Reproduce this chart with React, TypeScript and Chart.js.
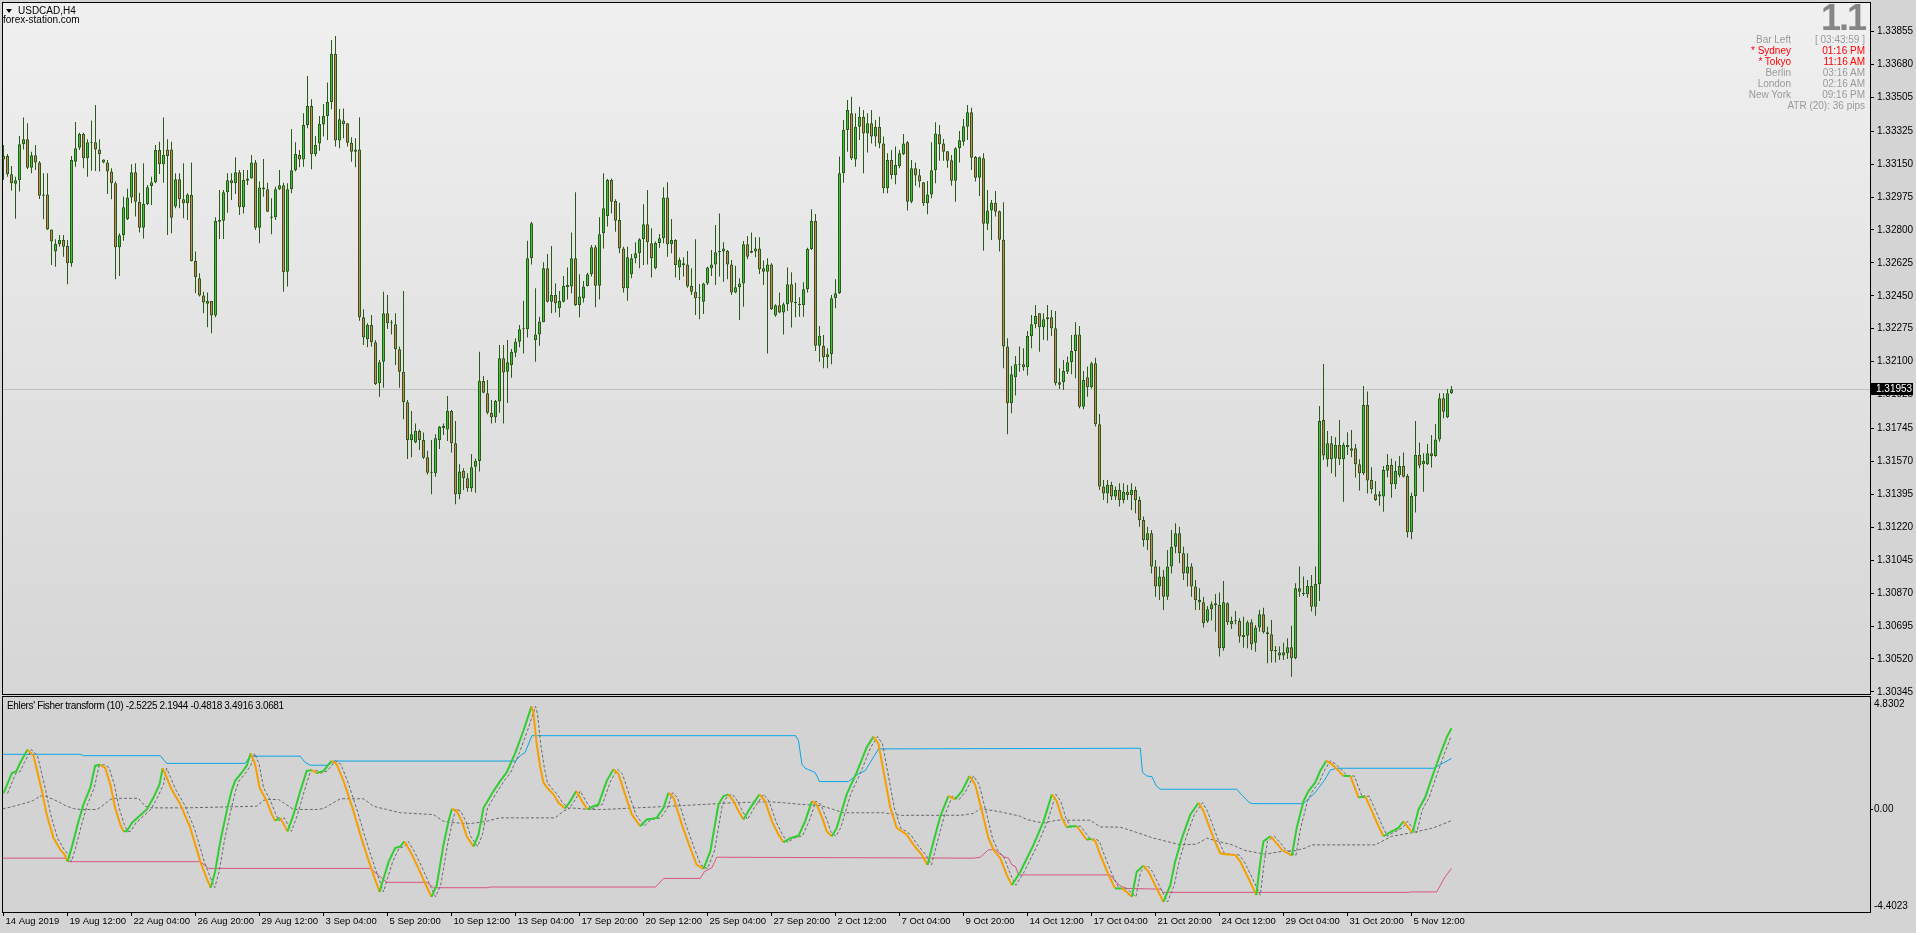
import React, { useEffect, useRef } from 'react';
import { Chart, registerables } from 'chart.js';
Chart.register(...registerables);

const FONT = '"Liberation Sans", Arial, Helvetica, sans-serif';

// [open, high, low, close] per H4 bar, bar 0 = 14 Aug 2019 20:00
const OHLC: number[][] = [
[1.33175,1.33252,1.33066,1.33193],[1.33193,1.33204,1.33083,1.33096],[1.33096,1.33140,1.33009,1.33048],[1.33046,1.33083,1.32860,1.33064],[1.33064,1.33299,1.33004,1.33255],
[1.33255,1.33397,1.33228,1.33282],[1.33282,1.33367,1.33124,1.33131],[1.33131,1.33216,1.33101,1.33197],[1.33197,1.33252,1.33119,1.33158],[1.33159,1.33166,1.32965,1.32982],
[1.32982,1.33101,1.32857,1.32989],[1.32989,1.33101,1.32800,1.32802],[1.32802,1.32802,1.32614,1.32738],[1.32685,1.32750,1.32605,1.32725],[1.32724,1.32773,1.32711,1.32747],
[1.32747,1.32773,1.32658,1.32711],[1.32715,1.32747,1.32511,1.32623],[1.32623,1.33193,1.32605,1.33172],[1.33163,1.33374,1.33136,1.33234],[1.33237,1.33317,1.33225,1.33310],
[1.33310,1.33317,1.33128,1.33181],[1.33181,1.33282,1.33083,1.33266],[1.33266,1.33381,1.33115,1.33264],[1.33266,1.33464,1.33113,1.33228],[1.33228,1.33282,1.33110,1.33202],
[1.33175,1.33175,1.33154,1.33158],[1.33158,1.33172,1.32991,1.33110],[1.33110,1.33128,1.32963,1.33048],[1.33048,1.33057,1.32538,1.32708],[1.32708,1.32782,1.32555,1.32772],
[1.32772,1.32977,1.32743,1.32920],[1.32857,1.33019,1.32853,1.32973],[1.32973,1.33149,1.32942,1.33106],[1.33106,1.33154,1.32871,1.32950],[1.32950,1.32998,1.32786,1.32812],
[1.32812,1.33154,1.32754,1.32938],[1.32938,1.33039,1.32933,1.33027],[1.33034,1.33083,1.32933,1.33053],[1.33053,1.33252,1.33048,1.33225],[1.33225,1.33269,1.33097,1.33149],
[1.33149,1.33397,1.33051,1.33198],[1.33228,1.33282,1.32773,1.33193],[1.33228,1.33269,1.32782,1.32865],[1.32924,1.33101,1.32915,1.33069],[1.33069,1.33101,1.32915,1.32963],
[1.32963,1.33154,1.32862,1.32942],[1.32942,1.32995,1.32853,1.32989],[1.32986,1.33158,1.32632,1.32635],[1.32635,1.32685,1.32463,1.32548],[1.32543,1.32570,1.32446,1.32451],
[1.32451,1.32472,1.32357,1.32415],[1.32408,1.32467,1.32283,1.32423],[1.32423,1.32423,1.32251,1.32345],[1.32345,1.32867,1.32336,1.32848],[1.32844,1.33012,1.32752,1.32853],
[1.32849,1.33012,1.32752,1.33000],[1.33000,1.33101,1.32892,1.33064],[1.33064,1.33101,1.32959,1.33048],[1.33048,1.33186,1.32991,1.33106],[1.33106,1.33119,1.32880,1.32920],
[1.32920,1.33119,1.32888,1.33066],[1.33062,1.33119,1.33039,1.33074],[1.33074,1.33198,1.33073,1.33159],[1.33159,1.33172,1.32800,1.32812],[1.32812,1.33057,1.32729,1.33025],
[1.33025,1.33177,1.32977,1.33016],[1.33016,1.33051,1.32895,1.32897],[1.32871,1.32968,1.32777,1.32865],[1.32867,1.33030,1.32853,1.33016],[1.33016,1.33119,1.33012,1.33037],
[1.33037,1.33051,1.32472,1.32575],[1.32578,1.33048,1.32499,1.33016],[1.33016,1.33337,1.32995,1.33117],[1.33117,1.33266,1.33110,1.33204],[1.33198,1.33225,1.33133,1.33175],
[1.33175,1.33420,1.33136,1.33358],[1.33358,1.33618,1.33340,1.33459],[1.33459,1.33494,1.33122,1.33202],[1.33202,1.33299,1.33190,1.33252],[1.33260,1.33406,1.33221,1.33363],
[1.33361,1.33469,1.33296,1.33406],[1.33406,1.33583,1.33278,1.33480],[1.33480,1.33809,1.33441,1.33735],[1.33735,1.33831,1.33243,1.33275],[1.33275,1.33443,1.33234,1.33388],
[1.33381,1.33446,1.33287,1.33363],[1.33367,1.33367,1.33243,1.33264],[1.33264,1.33292,1.33163,1.33216],[1.33216,1.33287,1.33133,1.33228],[1.33228,1.33399,1.32318,1.32336],
[1.32336,1.32378,1.32189,1.32229],[1.32219,1.32304,1.32176,1.32295],[1.32295,1.32348,1.32180,1.32203],[1.32203,1.32215,1.31976,1.31981],[1.31985,1.32109,1.31914,1.32097],
[1.32100,1.32472,1.31962,1.32357],[1.32357,1.32454,1.32274,1.32304],[1.32307,1.32322,1.32245,1.32304],[1.32299,1.32357,1.32082,1.32166],[1.32166,1.32180,1.31962,1.32047],
[1.32047,1.32476,1.31794,1.31884],[1.31884,1.31896,1.31583,1.31684],[1.31684,1.31838,1.31592,1.31714],[1.31671,1.31772,1.31666,1.31733],[1.31733,1.31739,1.31631,1.31684],
[1.31684,1.31723,1.31583,1.31590],[1.31592,1.31627,1.31501,1.31510],[1.31510,1.31684,1.31395,1.31512],[1.31507,1.31714,1.31489,1.31693],[1.31684,1.31758,1.31636,1.31755],
[1.31758,1.31772,1.31710,1.31746],[1.31739,1.31918,1.31678,1.31838],[1.31838,1.31843,1.31617,1.31666],[1.31666,1.31785,1.31342,1.31395],[1.31395,1.31555,1.31369,1.31516],
[1.31521,1.31533,1.31418,1.31480],[1.31480,1.31507,1.31409,1.31427],[1.31427,1.31610,1.31409,1.31539],[1.31542,1.31586,1.31404,1.31574],[1.31572,1.32153,1.31516,1.31999],
[1.31997,1.32024,1.31932,1.31935],[1.31932,1.32003,1.31820,1.31829],[1.31829,1.31896,1.31772,1.31804],[1.31804,1.31896,1.31776,1.31891],[1.31888,1.32189,1.31829,1.32118],
[1.32118,1.32189,1.31772,1.32043],[1.32047,1.32215,1.31880,1.32097],[1.32082,1.32167,1.32015,1.32153],[1.32148,1.32224,1.32123,1.32206],[1.32206,1.32295,1.32176,1.32272],
[1.32272,1.32424,1.32144,1.32275],[1.32272,1.32743,1.32229,1.32649],[1.32649,1.32844,1.32617,1.32835],[1.32215,1.32490,1.32100,1.32245],[1.32245,1.32339,1.32185,1.32313],
[1.32309,1.32628,1.32309,1.32596],[1.32596,1.32672,1.32414,1.32419],[1.32419,1.32715,1.32357,1.32454],[1.32454,1.32516,1.32361,1.32410],[1.32384,1.32476,1.32336,1.32423],
[1.32419,1.32555,1.32414,1.32504],[1.32495,1.32601,1.32431,1.32508],[1.32499,1.32786,1.32463,1.32649],[1.32649,1.33000,1.32396,1.32401],[1.32401,1.32564,1.32336,1.32446],
[1.32437,1.32529,1.32414,1.32499],[1.32502,1.32573,1.32499,1.32564],[1.32564,1.32720,1.32552,1.32708],[1.32708,1.32720,1.32389,1.32504],[1.32504,1.32867,1.32431,1.32777],
[1.32782,1.33101,1.32702,1.32915],[1.32874,1.33071,1.32818,1.33066],[1.33066,1.33074,1.32888,1.32950],[1.32954,1.32963,1.32791,1.32849],[1.32853,1.32945,1.32676,1.32702],
[1.32702,1.32711,1.32467,1.32490],[1.32490,1.32711,1.32424,1.32655],[1.32564,1.32672,1.32543,1.32649],[1.32649,1.32734,1.32623,1.32676],[1.32676,1.32756,1.32596,1.32750],
[1.32750,1.32936,1.32614,1.32830],[1.32830,1.33012,1.32617,1.32734],[1.32729,1.32809,1.32547,1.32649],[1.32596,1.32738,1.32591,1.32731],[1.32731,1.32779,1.32706,1.32756],
[1.32756,1.33027,1.32729,1.32973],[1.32973,1.33053,1.32658,1.32724],[1.32724,1.32858,1.32676,1.32747],[1.32747,1.32750,1.32547,1.32614],[1.32601,1.32653,1.32534,1.32640],
[1.32614,1.32655,1.32552,1.32623],[1.32617,1.32688,1.32493,1.32499],[1.32502,1.32596,1.32454,1.32472],[1.32472,1.32750,1.32348,1.32437],[1.32437,1.32513,1.32325,1.32440],
[1.32419,1.32520,1.32353,1.32516],[1.32516,1.32605,1.32508,1.32600],[1.32596,1.32694,1.32555,1.32617],[1.32617,1.32826,1.32508,1.32681],[1.32681,1.32888,1.32552,1.32688],
[1.32685,1.32734,1.32525,1.32702],[1.32688,1.32694,1.32538,1.32617],[1.32617,1.32640,1.32454,1.32467],[1.32467,1.32610,1.32463,1.32495],[1.32495,1.32543,1.32322,1.32516],
[1.32516,1.32741,1.32392,1.32724],[1.32724,1.32768,1.32644,1.32658],[1.32679,1.32787,1.32676,1.32688],[1.32685,1.32761,1.32655,1.32702],[1.32702,1.32761,1.32566,1.32591],
[1.32596,1.32637,1.32508,1.32578],[1.32578,1.32649,1.32144,1.32617],[1.32617,1.32623,1.32375,1.32378],[1.32345,1.32405,1.32339,1.32400],[1.32400,1.32467,1.32357,1.32361],
[1.32361,1.32414,1.32245,1.32405],[1.32405,1.32601,1.32369,1.32511],[1.32511,1.32575,1.32281,1.32414],[1.32410,1.32520,1.32336,1.32417],[1.32407,1.32442,1.32339,1.32401],
[1.32400,1.32522,1.32339,1.32485],[1.32485,1.32706,1.32467,1.32699],[1.32699,1.32910,1.32694,1.32848],[1.32848,1.32885,1.32157,1.32185],[1.32185,1.32290,1.32100,1.32238],
[1.32185,1.32242,1.32065,1.32123],[1.32123,1.32171,1.32065,1.32139],[1.32139,1.32454,1.32086,1.32437],[1.32437,1.32538,1.32384,1.32463],[1.32463,1.33190,1.32460,1.33101],
[1.33101,1.33384,1.33051,1.33331],[1.33331,1.33491,1.33216,1.33438],[1.33420,1.33508,1.33172,1.33181],[1.33175,1.33420,1.33136,1.33349],[1.33349,1.33455,1.33278,1.33402],
[1.33402,1.33438,1.33101,1.33313],[1.33313,1.33420,1.33211,1.33367],[1.33367,1.33438,1.33260,1.33296],[1.33296,1.33384,1.33243,1.33349],[1.33349,1.33402,1.33234,1.33260],
[1.33260,1.33296,1.32995,1.33021],[1.33021,1.33207,1.32995,1.33172],[1.33172,1.33225,1.33069,1.33092],[1.33092,1.33243,1.33043,1.33145],[1.33140,1.33225,1.33128,1.33207],
[1.33202,1.33310,1.33198,1.33260],[1.33266,1.33273,1.32903,1.32950],[1.32950,1.33172,1.32942,1.33128],[1.33128,1.33158,1.33035,1.33089],[1.33090,1.33124,1.33025,1.33057],
[1.33053,1.33053,1.32927,1.32942],[1.32942,1.33060,1.32883,1.32989],[1.32989,1.33266,1.32968,1.33117],[1.33117,1.33372,1.33048,1.33313],[1.33308,1.33358,1.33168,1.33255],
[1.33260,1.33283,1.33168,1.33216],[1.33218,1.33220,1.33131,1.33168],[1.33170,1.33198,1.33035,1.33062],[1.33062,1.33239,1.32950,1.33234],[1.33234,1.33326,1.33158,1.33276],
[1.33269,1.33390,1.33248,1.33351],[1.33349,1.33464,1.33278,1.33425],[1.33425,1.33450,1.33119,1.33184],[1.33188,1.33193,1.33057,1.33078],[1.33078,1.33190,1.32980,1.33186],
[1.33181,1.33207,1.32690,1.32833],[1.32833,1.33012,1.32800,1.32903],[1.32903,1.32959,1.32747,1.32945],[1.32945,1.33007,1.32871,1.32897],[1.32899,1.32903,1.32685,1.32748],
[1.32748,1.32947,1.32065,1.32180],[1.32180,1.32224,1.31714,1.31879],[1.31879,1.32077,1.31826,1.32033],[1.32017,1.32130,1.31920,1.32086],[1.32086,1.32180,1.32047,1.32084],
[1.32086,1.32171,1.32052,1.32070],[1.32070,1.32263,1.32026,1.32237],[1.32237,1.32348,1.32171,1.32299],[1.32299,1.32401,1.32277,1.32343],[1.32357,1.32357,1.32153,1.32283],
[1.32283,1.32357,1.32215,1.32325],[1.32325,1.32401,1.32212,1.32336],[1.32336,1.32375,1.32237,1.32277],[1.32277,1.32369,1.31973,1.31985],[1.31990,1.32065,1.31955,1.31978],
[1.31990,1.32109,1.31950,1.32051],[1.32047,1.32127,1.32035,1.32097],[1.32097,1.32242,1.32033,1.32157],[1.32157,1.32309,1.32012,1.32245],[1.32245,1.32290,1.31852,1.31861],
[1.31861,1.32051,1.31847,1.32003],[1.32017,1.32074,1.31914,1.31964],[1.31964,1.32100,1.31958,1.32091],[1.32091,1.32121,1.31755,1.31767],[1.31767,1.31822,1.31418,1.31436],
[1.31436,1.31471,1.31365,1.31400],[1.31400,1.31471,1.31347,1.31445],[1.31445,1.31462,1.31365,1.31383],[1.31383,1.31436,1.31365,1.31418],[1.31418,1.31454,1.31330,1.31365],
[1.31365,1.31454,1.31347,1.31409],[1.31409,1.31445,1.31365,1.31392],[1.31392,1.31454,1.31312,1.31418],[1.31418,1.31436,1.31294,1.31365],[1.31365,1.31383,1.31223,1.31259],
[1.31259,1.31277,1.31117,1.31153],[1.31153,1.31223,1.31099,1.31188],[1.31188,1.31206,1.30975,1.31011],[1.31011,1.31046,1.30851,1.30905],[1.30905,1.31011,1.30834,1.30958],
[1.30958,1.30993,1.30781,1.30851],[1.30851,1.31099,1.30834,1.31011],[1.31011,1.31206,1.30975,1.31117],[1.31117,1.31241,1.31082,1.31188],[1.31188,1.31223,1.31029,1.31082],
[1.31082,1.31117,1.30940,1.30975],[1.30975,1.31082,1.30905,1.31011],[1.31011,1.31029,1.30851,1.30905],[1.30905,1.30940,1.30781,1.30834],[1.30834,1.30896,1.30781,1.30821],
[1.30821,1.30851,1.30687,1.30710],[1.30719,1.30802,1.30713,1.30784],[1.30784,1.30825,1.30724,1.30811],[1.30816,1.30866,1.30665,1.30805],[1.30807,1.30873,1.30533,1.30577],
[1.30577,1.30935,1.30564,1.30821],[1.30816,1.30821,1.30701,1.30715],[1.30704,1.30745,1.30680,1.30722],[1.30722,1.30775,1.30704,1.30720],[1.30722,1.30736,1.30607,1.30639],
[1.30635,1.30745,1.30580,1.30648],[1.30644,1.30724,1.30577,1.30715],[1.30715,1.30731,1.30568,1.30598],[1.30607,1.30701,1.30559,1.30688],[1.30688,1.30781,1.30665,1.30758],
[1.30758,1.30793,1.30656,1.30662],[1.30651,1.30692,1.30497,1.30662],[1.30651,1.30727,1.30501,1.30563],[1.30563,1.30589,1.30501,1.30568],[1.30554,1.30586,1.30515,1.30538],
[1.30538,1.30607,1.30515,1.30556],[1.30550,1.30630,1.30520,1.30582],[1.30582,1.30697,1.30426,1.30524],[1.30524,1.30922,1.30518,1.30896],[1.30896,1.31011,1.30851,1.30878],
[1.30869,1.30958,1.30855,1.30866],[1.30864,1.30940,1.30846,1.30908],[1.30908,1.30967,1.30772,1.30798],[1.30798,1.31011,1.30750,1.30919],[1.30919,1.31865,1.30828,1.31785],
[1.31790,1.32088,1.31578,1.31601],[1.31581,1.31732,1.31542,1.31666],[1.31666,1.31705,1.31507,1.31581],[1.31586,1.31698,1.31489,1.31657],[1.31657,1.31790,1.31551,1.31581],
[1.31581,1.31671,1.31356,1.31657],[1.31657,1.31725,1.31604,1.31645],[1.31640,1.31737,1.31592,1.31627],[1.31640,1.31663,1.31484,1.31555],[1.31555,1.31581,1.31415,1.31507],
[1.31507,1.31971,1.31498,1.31870],[1.31870,1.31941,1.31400,1.31468],[1.31471,1.31539,1.31400,1.31422],[1.31395,1.31466,1.31360,1.31365],[1.31383,1.31413,1.31335,1.31395],
[1.31383,1.31546,1.31303,1.31525],[1.31521,1.31610,1.31486,1.31551],[1.31551,1.31586,1.31377,1.31448],[1.31448,1.31572,1.31424,1.31519],[1.31498,1.31599,1.31486,1.31546],
[1.31546,1.31618,1.31484,1.31489],[1.31493,1.31503,1.31165,1.31193],[1.31193,1.31404,1.31156,1.31386],[1.31386,1.31785,1.31298,1.31604],[1.31604,1.31671,1.31533,1.31548],
[1.31555,1.31613,1.31409,1.31572],[1.31555,1.31663,1.31551,1.31613],[1.31613,1.31710,1.31537,1.31599],[1.31599,1.31769,1.31595,1.31687],[1.31687,1.31932,1.31675,1.31905],
[1.31905,1.31932,1.31799,1.31834],[1.31804,1.31955,1.31799,1.31932],[1.31932,1.31971,1.31928,1.31953],
];

const LAST_PRICE = 1.31953;
const PRICE_TICKS = [1.33855,1.33680,1.33505,1.33325,1.33150,1.32975,1.32800,1.32625,1.32450,1.32275,1.32100,1.31925,1.31745,1.31570,1.31395,1.31220,1.31045,1.30870,1.30695,1.30520,1.30345];
const TIME_TICKS = [0,16,32,48,64,80,96,112,128,144,160,176,192,208,224,240,256,272,288,304,320,336,352];
const TIME_LABELS = ['14 Aug 2019','19 Aug 12:00','22 Aug 04:00','26 Aug 20:00','29 Aug 12:00','3 Sep 04:00','5 Sep 20:00','10 Sep 12:00','13 Sep 04:00','17 Sep 20:00','20 Sep 12:00','25 Sep 04:00','27 Sep 20:00','2 Oct 12:00','7 Oct 04:00','9 Oct 20:00','14 Oct 12:00','17 Oct 04:00','21 Oct 20:00','24 Oct 12:00','29 Oct 04:00','31 Oct 20:00','5 Nov 12:00'];

// Fisher transform [bar, value]
const FISHER: number[][] = [
[0,0.69],[2.1,1.56],[3.2,1.63],[4.2,2.02],[6,2.57],[7.5,2.31],[9.6,0.79],[10.8,-0.22],[12.5,-1.23],[14.2,-1.73],[15.4,-1.98],[16,-2.24],[17,-1.66],[18.75,-0.51],[20,0.22],[21.7,0.94],[22.9,1.88],[24.2,1.92],[25.4,1.80],[26.7,1.08],[27.9,0.07],[29.2,-0.65],[30,-0.94],[30.8,-0.94],[32.1,-0.58],[33.3,-0.39],[35.8,0],[37.5,0.51],[39,1.08],[39.8,1.77],[40.8,1.37],[42,0.87],[44.2,0.22],[46.7,-0.79],[49.2,-2.24],[50.8,-2.96],[51.8,-3.36],[52.9,-2.67],[54.2,-1.37],[55.8,-0.07],[57,0.79],[57.9,1.23],[59.6,1.59],[60.8,1.88],[61.8,2.41],[62.9,1.95],[64,0.94],[65.8,0.36],[67.1,-0.22],[67.9,-0.48],[69.2,-0.36],[71,-0.94],[72.5,-0.22],[74.2,0.79],[75.8,1.66],[77.1,1.69],[78.3,1.56],[80,1.66],[82,2.09],[83.3,1.95],[85,1.23],[87.5,-0.07],[89.2,-1.08],[90.8,-1.95],[92.5,-2.81],[94,-3.54],[95,-2.96],[96.3,-2.24],[97.9,-1.66],[99.2,-1.59],[100.2,-1.37],[101.7,-1.80],[103.75,-2.53],[105.4,-3.17],[107,-3.75],[108.3,-3.25],[110,-1.52],[111.25,-0.51],[112.1,0.03],[113.3,-0.07],[114.6,-0.51],[115.8,-1.15],[117.5,-1.59],[118.75,-1.08],[120,0.07],[121.25,0.43],[122.5,0.79],[124.2,1.23],
[125.8,1.59],[128,2.45],[130,3.39],[132,4.43],[132.5,4.11],[133.3,2.81],[134.2,1.80],[135,1.15],[136.25,0.87],[137.5,0.65],[138.75,0.29],[140.4,0.04],[141.7,0.36],[143.2,0.79],[144.6,0.36],[146,0],[147.5,0.14],[148.75,0.22],[150.8,1.23],[152.5,1.73],[153.75,1.52],[155.4,0.65],[157.1,-0.22],[159.2,-0.72],[160.8,-0.43],[163.3,-0.36],[165,0.07],[166.25,0.72],[167.5,0.51],[169.6,-0.65],[171.7,-1.66],[173.3,-2.38],[175,-2.55],[176.7,-1.80],[178.75,0.22],[180,0.58],[181.25,0.65],[182.5,0.36],[183.75,-0.07],[185,-0.43],[186.7,0.07],[189,0.65],[190.4,0.36],[192.1,-0.51],[193.75,-1.08],[195,-1.41],[196.7,-1.23],[198.75,-1.13],[200.4,-0.51],[202.1,0.36],[203.3,0.22],[205,-0.51],[205.8,-0.94],[207.1,-1.15],[208.3,-0.79],[210.8,0.65],[213.3,1.59],[215.8,2.67],[217.5,3.13],[218.75,2.81],[220,1.66],[221.7,0.07],[223.3,-0.79],[224.6,-0.94],[225.8,-1.08],[227.5,-1.52],[229.6,-1.95],[231,-2.38],[232.5,-1.37],[234.2,-0.29],[236.25,0.58],[237.9,0.43],[239.6,0.79],[241.5,1.44],[242.9,1.08],[244.6,-0.07],[246.25,-1.23],[247.5,-1.73],[249.2,-2.09],
[250.8,-2.81],[252.1,-3.25],[254.2,-2.67],[257.5,-1.52],[260,-0.51],[262.1,0.65],[263.3,0.36],[264.6,-0.36],[265.8,-0.76],[267.1,-0.72],[268.3,-0.72],[269.6,-1.01],[270.8,-1.30],[272,-1.26],[273,-1.37],[274.2,-1.95],[276.25,-2.81],[277.9,-3.39],[279.6,-3.39],[280.8,-3.54],[282.1,-3.75],[283.3,-2.67],[285,-2.41],[286.25,-2.67],[287.9,-3.25],[290,-3.97],[291.7,-3.25],[292.9,-2.24],[294.6,-1.23],[296.7,-0.22],[298.75,0.29],[300,-0.07],[302.5,-1.23],[304.2,-1.88],[305.4,-1.92],[307.9,-1.95],[309.2,-2.24],[311.25,-2.96],[313.2,-3.68],[314.2,-2.24],[315,-1.37],[316.7,-1.15],[317.9,-1.37],[319.6,-1.73],[322.1,-1.98],[323.3,-0.79],[325,0.36],[326.25,0.79],[327.9,1.15],[329.2,1.66],[330.7,2.09],[332.1,1.95],[333.75,1.66],[335,1.44],[336.7,1.44],[338.75,0.51],[340.4,0.58],[342.1,-0.07],[343.75,-0.72],[345,-1.15],[346.25,-1.01],[348.75,-0.79],[350,-0.51],[351.25,-0.79],[352.25,-1.01],[353.75,0],[355.4,0.51],[357.1,1.37],[359.2,2.38],[360.8,3.10],[362,3.49],
];

const AVERAGE: number[][] = [
[-0.2,0.03],[1.7,0.10],[5.8,0.29],[7.5,0.39],[9.2,0.58],[10.4,0.58],[12.5,0.43],[14.2,0.29],[15.8,0.14],[17.5,0.04],[19.2,0],[23.3,0],[24.6,0.14],[26.7,0.43],[27.9,0.48],[33.75,0.48],[35.4,0.14],[36.7,0.07],[45.8,0.07],[63.3,0.14],[65,0.39],[66.25,0.43],[68.75,0.43],[70,0.29],[72.5,0],[78.3,0],[80,0.04],[84.2,0.46],[90,0.46],[92.5,0.14],[95.8,0],[99.2,-0.14],[107.5,-0.22],[110,-0.51],[115.8,-0.62],[120.8,-0.51],[123.3,-0.39],[124.2,-0.36],[137.9,-0.36],[140,-0.07],[141.7,0.07],[146.7,0],[150,0],[166.7,0.14],[170,0.17],[182.5,0.29],[191.7,0.33],[195,0.29],[199.2,0.22],[204.2,0.17],[207.5,0],[210,-0.14],[220,-0.14],[224.2,-0.25],[239.2,-0.25],[242.5,-0.17],[244.2,0.04],[249.2,-0.10],[254.2,-0.29],[255.8,-0.43],[258.3,-0.53],[260,-0.58],[263.3,-0.46],[271.7,-0.46],[274.2,-0.75],[279.2,-0.76],[282.5,-0.94],[287.5,-1.23],[290.8,-1.37],[294.2,-1.52],[298.3,-1.49],[300.8,-1.23],[303.75,-1.37],[307.2,-1.52],[310.4,-1.76],[315.4,-1.92],[319.6,-1.80],[322.9,-1.77],[325.4,-1.66],[327.1,-1.52],[342.9,-1.52],[347.1,-1.15],[351.7,-1.01],[357.5,-0.79],[362,-0.48],
];

const UPPER: number[][] = [
[-0.2,2.37],[19.2,2.37],[20,2.31],[39.2,2.31],[40.8,1.98],[60.4,1.98],[61.7,2.29],[74.2,2.29],[75.4,2.02],[76.7,1.90],[81.25,1.90],[82.5,2.08],[128,2.08],[129.2,2.31],[130.4,2.45],[132.1,3.17],[198,3.17],[198.75,2.96],[199.6,1.95],[200.4,1.77],[202.9,1.59],[204,1.20],[211.25,1.20],[213.75,1.54],[215.4,1.66],[218.75,2.60],[284.2,2.63],[284.75,1.59],[285.8,1.44],[287.1,1.41],[288.2,1.01],[289.2,0.87],[308.3,0.87],[309.6,0.62],[311.25,0.33],[312.1,0.25],[325,0.25],[327.9,0.72],[330.4,1.30],[331.7,1.69],[333.3,1.77],[357.5,1.77],[362,2.19],
];

const LOWER: number[][] = [
[-0.2,-2.09],[15.4,-2.09],[16.25,-2.24],[49.2,-2.24],[51.25,-2.53],[91.7,-2.53],[94.2,-2.89],[95.8,-3.13],[105.8,-3.13],[107.5,-3.36],[120.8,-3.36],[121.7,-3.33],[163,-3.33],[165,-2.96],[174.2,-2.96],[175.2,-2.67],[177.1,-2.50],[178.3,-2.05],[242.5,-2.09],[244.2,-2.05],[246.25,-1.73],[247.9,-1.73],[249.2,-1.92],[250.4,-2.05],[251.25,-2.09],[252.1,-2.38],[253,-2.45],[253.75,-2.81],[276.7,-2.81],[278,-3.10],[279.2,-3.28],[280.8,-3.39],[289.2,-3.42],[290,-3.56],[351.25,-3.56],[351.7,-3.54],[358.3,-3.54],[360.4,-2.89],[362,-2.53],
];

const F_MIN = -4.4023;
const F_MAX = 4.8302;
const F_LABELS = ['4.8302', '0.00', '-4.4023'];

const X_MIN = -0.125;
const X_MAX = 466.625;
const P_MIN = 1.30334;
const P_MAX = 1.34006;

const BULL = '#3dc43a';
const BEAR = '#d4825a';
const WICK = '#2a5a17';
const OUTER_BG = '#d4d4d4';

const pts = (arr: number[][]) => arr.map(p => ({ x: p[0], y: p[1] }));

export default function App() {
  const topRef = useRef<HTMLCanvasElement>(null);
  const botRef = useRef<HTMLCanvasElement>(null);

  useEffect(() => {
    const topPlugin = {
      id: 'topDeco',
      beforeDraw(chart: any) {
        const { ctx, chartArea: a, width, height } = chart;
        ctx.save();
        ctx.fillStyle = OUTER_BG;
        ctx.fillRect(0, 0, width, height);
        const g = ctx.createLinearGradient(0, a.top, 0, a.bottom);
        g.addColorStop(0, '#f0f0f0');
        g.addColorStop(1, '#d6d6d6');
        ctx.fillStyle = g;
        ctx.fillRect(a.left, a.top, a.right - a.left, a.bottom - a.top);
        ctx.restore();
      },
      beforeDatasetsDraw(chart: any) {
        const { ctx, chartArea: a } = chart;
        const y = Math.round(chart.scales.y.getPixelForValue(LAST_PRICE)) + 0.5;
        ctx.save();
        ctx.strokeStyle = '#c0c0c0';
        ctx.lineWidth = 1;
        ctx.beginPath();
        ctx.moveTo(a.left, y);
        ctx.lineTo(a.right, y);
        ctx.stroke();
        ctx.restore();
      },
      afterDraw(chart: any) {
        const { ctx, chartArea: a } = chart;
        ctx.save();
        ctx.strokeStyle = '#000';
        ctx.lineWidth = 1;
        ctx.strokeRect(a.left - 0.5, a.top - 0.5, a.right - a.left + 1, a.bottom - a.top + 1);
        const y = Math.round(chart.scales.y.getPixelForValue(LAST_PRICE));
        ctx.fillStyle = '#000';
        ctx.fillRect(a.right + 1, y - 6, 42, 12);
        ctx.fillStyle = '#fff';
        ctx.font = `10px ${FONT}`;
        ctx.textBaseline = 'middle';
        ctx.textAlign = 'left';
        ctx.fillText(LAST_PRICE.toFixed(5), a.right + 6, y + 0.5);
        ctx.restore();
      },
    };

    const top = new Chart(topRef.current as HTMLCanvasElement, {
      type: 'bar',
      data: {
        datasets: [
          {
            data: OHLC.map((c, i) => ({ x: i, y: [Math.min(c[0], c[3]), Math.max(c[0], c[3])] })),
            backgroundColor: OHLC.map(c => (c[3] >= c[0] ? BULL : BEAR)),
            borderColor: WICK,
            borderWidth: 1,
            borderSkipped: false,
            barThickness: 3,
            minBarLength: 1,
            grouped: false,
            inflateAmount: 0,
          } as any,
          {
            data: OHLC.map((c, i) => ({ x: i, y: [c[2], c[1]] })),
            backgroundColor: WICK,
            borderWidth: 0,
            barThickness: 1,
            grouped: false,
            inflateAmount: 0,
          } as any,
        ],
      },
      options: {
        animation: false,
        responsive: false,
        devicePixelRatio: 1,
        events: [],
        layout: { padding: { left: 3, top: 3, right: 0, bottom: 2 } },
        plugins: { legend: { display: false }, tooltip: { enabled: false } },
        scales: {
          x: { type: 'linear', min: X_MIN, max: X_MAX, offset: false, display: false },
          y: {
            type: 'linear',
            position: 'right',
            min: P_MIN,
            max: P_MAX,
            afterFit: (s: any) => { s.width = 46; s.paddingTop = 0; s.paddingBottom = 0; },
            afterBuildTicks: (s: any) => { s.ticks = PRICE_TICKS.map(v => ({ value: v })); },
            grid: { display: true, drawOnChartArea: false, drawTicks: true, tickLength: 4, color: '#000', lineWidth: 1 },
            border: { display: false },
            ticks: {
              autoSkip: false,
              padding: 3,
              color: '#000',
              font: { family: FONT, size: 10 },
              callback: (v: any) => Number(v).toFixed(5),
            },
          },
        },
      } as any,
      plugins: [topPlugin],
    });

    const botPlugin = {
      id: 'botDeco',
      beforeDraw(chart: any) {
        const { ctx, chartArea: a, width, height } = chart;
        ctx.save();
        ctx.fillStyle = OUTER_BG;
        ctx.fillRect(0, 0, width, height);
        ctx.fillStyle = '#d3d3d3';
        ctx.fillRect(a.left, a.top, a.right - a.left, a.bottom - a.top);
        ctx.restore();
      },
      afterDraw(chart: any) {
        const { ctx, chartArea: a } = chart;
        const ys = chart.scales.y;
        ctx.save();
        ctx.strokeStyle = '#000';
        ctx.lineWidth = 1;
        ctx.strokeRect(a.left - 0.5, a.top - 0.5, a.right - a.left + 1, a.bottom - a.top + 1);
        const y0 = Math.round(ys.getPixelForValue(0)) + 0.5;
        ctx.beginPath();
        ctx.moveTo(a.right, y0);
        ctx.lineTo(a.right + 3, y0);
        ctx.stroke();
        ctx.fillStyle = '#000';
        ctx.font = `10px ${FONT}`;
        ctx.textBaseline = 'middle';
        ctx.textAlign = 'left';
        ctx.fillText(F_LABELS[0], a.right + 4, ys.getPixelForValue(F_MAX) + 7);
        ctx.fillText(F_LABELS[1], a.right + 4, y0);
        ctx.fillText(F_LABELS[2], a.right + 4, ys.getPixelForValue(F_MIN) - 6);
        ctx.restore();
      },
    };

    const lineBase = { pointRadius: 0, borderWidth: 1, tension: 0, fill: false };
    const bot = new Chart(botRef.current as HTMLCanvasElement, {
      type: 'line',
      data: {
        datasets: [
          {
            ...lineBase,
            data: pts(FISHER),
            borderWidth: 2,
            borderColor: '#32cd32',
            segment: {
              borderColor: (c: any) => (c.p1.parsed.y >= c.p0.parsed.y ? '#32cd32' : '#f5a000'),
            },
          },
          {
            ...lineBase,
            data: FISHER.filter(p => p[0] + 1 <= 362.5).map(p => ({ x: p[0] + 1, y: p[1] })),
            borderColor: '#6a6a6a',
            borderDash: [3, 2],
          },
          { ...lineBase, data: pts(AVERAGE), borderColor: '#6a6a6a', borderDash: [3, 2] },
          { ...lineBase, data: pts(UPPER), borderColor: '#0aa6e6' },
          { ...lineBase, data: pts(LOWER), borderColor: '#dc5580' },
        ] as any,
      },
      options: {
        animation: false,
        responsive: false,
        devicePixelRatio: 1,
        events: [],
        layout: { padding: { left: 3, top: 1, right: 0, bottom: 0 } },
        plugins: { legend: { display: false }, tooltip: { enabled: false } },
        scales: {
          x: {
            type: 'linear',
            min: X_MIN,
            max: X_MAX,
            offset: false,
            afterFit: (s: any) => { s.height = 21; s.paddingLeft = 0; s.paddingRight = 0; },
            afterBuildTicks: (s: any) => { s.ticks = TIME_TICKS.map(v => ({ value: v })); },
            grid: { display: true, drawOnChartArea: false, drawTicks: true, tickLength: 4, color: '#000', lineWidth: 1 },
            border: { display: false },
            ticks: {
              autoSkip: false,
              maxRotation: 0,
              minRotation: 0,
              align: 'start',
              labelOffset: 2,
              padding: 0,
              color: '#000',
              font: { family: FONT, size: 9.5 },
              callback: (v: any) => {
                const i = TIME_TICKS.indexOf(Number(v));
                return i >= 0 ? TIME_LABELS[i] : '';
              },
            },
          },
          y: {
            type: 'linear',
            position: 'right',
            min: F_MIN,
            max: F_MAX,
            afterFit: (s: any) => { s.width = 46; s.paddingTop = 0; s.paddingBottom = 0; },
            grid: { display: false },
            border: { display: false },
            ticks: { display: false },
          },
        },
      } as any,
      plugins: [botPlugin],
    });

    return () => {
      top.destroy();
      bot.destroy();
    };
  }, []);

  const base: React.CSSProperties = {
    position: 'absolute',
    fontFamily: FONT,
    fontSize: 10,
    lineHeight: '11px',
    whiteSpace: 'nowrap',
  };
  const rows = [
    { l: 'Bar Left', r: '[ 03:43:59 ]', c: '#9a9a9a' },
    { l: '* Sydney', r: '01:16 PM', c: '#ff0000' },
    { l: '* Tokyo', r: '11:16 AM', c: '#ff0000' },
    { l: 'Berlin', r: '03:16 AM', c: '#9a9a9a' },
    { l: 'London', r: '02:16 AM', c: '#9a9a9a' },
    { l: 'New York', r: '09:16 PM', c: '#9a9a9a' },
  ];

  return (
    <div style={{ position: 'absolute', left: 0, top: 0, width: 1916, height: 933, background: OUTER_BG, overflow: 'hidden' }}>
      <canvas ref={topRef} width={1916} height={696} style={{ position: 'absolute', left: 0, top: 0, width: 1916, height: 696 }} />
      <canvas ref={botRef} width={1916} height={237} style={{ position: 'absolute', left: 0, top: 696, width: 1916, height: 237 }} />

      <div style={{ position: 'absolute', left: 6, top: 9, width: 0, height: 0, borderLeft: '3.5px solid transparent', borderRight: '3.5px solid transparent', borderTop: '4px solid #000' }} />
      <div style={{ ...base, left: 18, top: 5, color: '#000' }}>USDCAD,H4</div>
      <div style={{ ...base, left: 3, top: 13.5, color: '#000' }}>forex-station.com</div>

      <div style={{ ...base, right: 51, top: 0, fontSize: 36, lineHeight: '36px', fontWeight: 700, letterSpacing: '-2px', color: '#868686' }}>1.1</div>
      {rows.map((r, i) => (
        <React.Fragment key={r.l}>
          <div style={{ ...base, right: 125, top: 33.5 + i * 11, color: r.c, textAlign: 'right' }}>{r.l}</div>
          <div style={{ ...base, right: 51, top: 33.5 + i * 11, color: r.c, textAlign: 'right' }}>{r.r}</div>
        </React.Fragment>
      ))}
      <div style={{ ...base, right: 51, top: 33.5 + 6 * 11, color: '#9a9a9a', textAlign: 'right' }}>ATR (20): 36 pips</div>

      <div style={{ ...base, left: 7, top: 700, color: '#000', letterSpacing: '-0.35px' }}>
        Ehlers' Fisher transform (10) -2.5225 2.1944 -0.4818 3.4916 3.0681
      </div>
    </div>
  );
}
